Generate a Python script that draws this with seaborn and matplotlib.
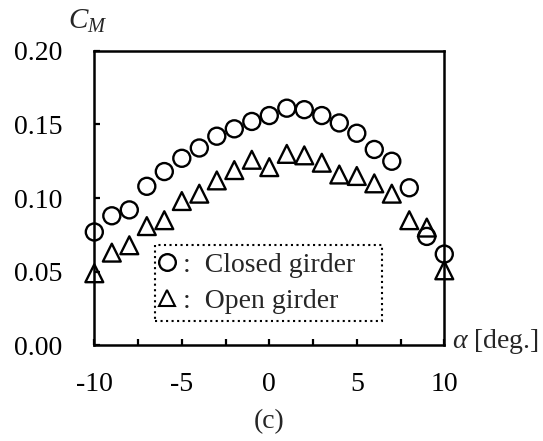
import pandas as pd
import seaborn as sns
import matplotlib.pyplot as plt
from matplotlib.lines import Line2D
from matplotlib.ticker import MultipleLocator

# Angle of attack [deg] and moment coefficient for the two girder types
alpha_deg = list(range(-10, 11))
cm_closed = [0.077, 0.088, 0.092, 0.108, 0.118, 0.127, 0.134, 0.142, 0.147, 0.152, 0.156,
             0.161, 0.160, 0.156, 0.151, 0.144, 0.133, 0.125, 0.107, 0.074, 0.062]
cm_open = [0.049, 0.063, 0.068, 0.081, 0.085, 0.098, 0.103, 0.112, 0.119, 0.126, 0.121,
           0.130, 0.129, 0.124, 0.116, 0.115, 0.110, 0.103, 0.085, 0.080, 0.051]
series_names = ["Closed girder", "Open girder"]
x_ticks = [-10, -5, 0, 5, 10]
y_ticks = [0.00, 0.05, 0.10, 0.15, 0.20]

sns.set_theme(style="white")
plt.rcParams["font.family"] = ["Liberation Serif", "DejaVu Serif"]
plt.rcParams["mathtext.fontset"] = "custom"
plt.rcParams["mathtext.it"] = "Liberation Serif:italic"
plt.rcParams["mathtext.rm"] = "Liberation Serif"

FS = 20

df = pd.DataFrame({
    "alpha": alpha_deg * 2,
    "cm": cm_closed + cm_open,
    "girder": [series_names[0]] * len(alpha_deg) + [series_names[1]] * len(alpha_deg),
})

fig = plt.figure(figsize=(5.43, 4.41), dpi=100)
ax = fig.add_axes([0.1737, 0.2166, 0.8182 - 0.1737, 0.885 - 0.2166])

marker_map = {series_names[0]: "o", series_names[1]: "^"}
size_map = {series_names[0]: 150, series_names[1]: 165}
for name in series_names:
    sub = df[df["girder"] == name]
    sns.scatterplot(data=sub, x="alpha", y="cm", marker=marker_map[name],
                    s=size_map[name], facecolors="none", edgecolor="black",
                    linewidth=1.7, clip_on=False, zorder=3, ax=ax, legend=False)

ax.set_xlim(-10, 10)
ax.set_ylim(0, 0.20)
ax.set_xticks(x_ticks)
ax.set_xticklabels([str(t) for t in x_ticks])
ax.xaxis.set_minor_locator(MultipleLocator(2.5))
ax.set_yticks(y_ticks)
ax.set_yticklabels([f"{t:.2f}" for t in y_ticks])
ax.set_xlabel("")
ax.set_ylabel("")

for side in ["left", "right", "top", "bottom"]:
    ax.spines[side].set_visible(True)
    ax.spines[side].set_color("black")
    ax.spines[side].set_linewidth(1.8)

ax.tick_params(axis="x", which="both", direction="in", length=4.5, width=1.6,
               bottom=True, top=False, labelsize=FS, pad=19, colors="black")
ax.tick_params(axis="y", which="both", direction="in", length=4.5, width=1.6,
               left=True, right=False, labelsize=FS, pad=23, colors="black")
ax.tick_params(axis="x", which="minor", labelbottom=False)

# Axis titles placed at the ends of the axes
ax.text(-0.02, 1.10, r"$C_M$", transform=ax.transAxes, fontsize=FS + 1,
        ha="center", va="center")
ax.text(1.022, 0.012, r"$\alpha$ [deg.]", transform=ax.transAxes, fontsize=FS,
        ha="left", va="center")
fig.text(0.496, 0.045, "(c)", fontsize=FS, ha="center", va="center")

handles = [
    Line2D([], [], linestyle="none", marker="o", markersize=12, markerfacecolor="none",
           markeredgecolor="black", markeredgewidth=1.7),
    Line2D([], [], linestyle="none", marker="^", markersize=12, markerfacecolor="none",
           markeredgecolor="black", markeredgewidth=1.5),
]
# Legend box spans a fixed data-space width, framed with a dotted border
leg = ax.legend(handles, [":  " + n for n in series_names], loc="lower left",
                bbox_to_anchor=(-6.53, 0.0166, 12.97, 0.05), bbox_transform=ax.transData,
                mode="expand", borderaxespad=0, fontsize=FS, handlelength=0.32,
                handletextpad=0.42, labelspacing=0.38, borderpad=0.27,
                frameon=True, fancybox=False)
frame = leg.get_frame()
frame.set_edgecolor("black")
frame.set_linestyle(":")
frame.set_linewidth(1.5)
frame.set_facecolor("white")
frame.set_alpha(1)

fig.savefig("out.png", dpi=100, facecolor="white")
